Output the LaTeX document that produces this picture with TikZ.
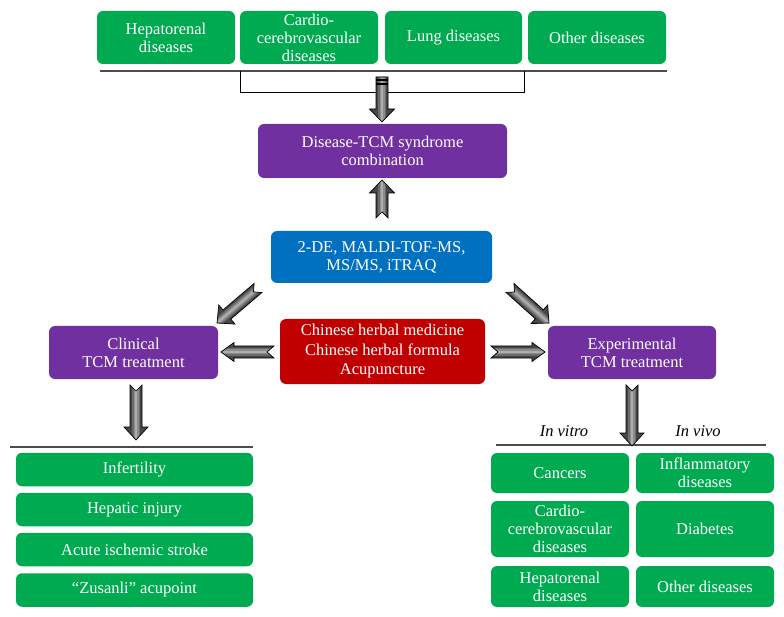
\documentclass[tikz,border=0pt]{standalone}
\usepackage{fontspec}
\setmainfont{Liberation Serif}
\usetikzlibrary{calc}
\definecolor{boxgreen}{RGB}{0,170,80}
\definecolor{boxpurple}{RGB}{112,48,160}
\definecolor{boxblue}{RGB}{0,112,192}
\definecolor{boxred}{RGB}{192,0,0}
\tikzset{
  box/.style={rounded corners=6pt, inner sep=0pt, align=center, text=white,
              font=\fontsize{16.5}{18}\selectfont},
  gbox/.style={box, fill=boxgreen},
  pbox/.style={box, fill=boxpurple},
  bbox/.style={box, fill=boxblue},
  rbox/.style={box, fill=boxred, font=\fontsize{16.5}{19.5}\selectfont},
  rule/.style={draw=black!70, line width=1.4pt},
  bracket/.style={draw=black, line width=0.8pt},
  lbl/.style={font=\fontsize{16.5}{18}\selectfont\itshape, inner sep=0pt},
}
% #1 notch depth, #2 head half width, #3 tail, #4 tip
\newcommand\blockarrow[4]{%
  \path let \p1=($(#4)-(#3)$), \n1={veclen(\x1,\y1)}, \n2={atan2(\y1,\x1)} in
    \pgfextra{\xdef\balen{\n1}\xdef\baang{\n2}};
  \begin{scope}[shift={(#3)}, rotate=\baang, x=1pt, y=1pt]
    \begin{scope}
      \clip (0,6) -- (\balen-13,6) -- (\balen-13,#2) -- (\balen,0) --
            (\balen-13,-#2) -- (\balen-13,-6) -- (0,-6) -- (#1,0) -- cycle;
      \fill[black!72] (-1,-14) rectangle (\balen+1,14);
      \draw[black!58, line width=8pt] (-1,0) -- (\balen,0);
      \draw[black!45, line width=5pt] (-1,0) -- (\balen,0);
      \draw[black!32, line width=2pt] (-1,0) -- (\balen,0);
    \end{scope}
    \draw[black, line width=0.7pt, line join=miter]
      (0,6) -- (\balen-13,6) -- (\balen-13,#2) -- (\balen,0) --
      (\balen-13,-#2) -- (\balen-13,-6) -- (0,-6) -- (#1,0) -- cycle;
  \end{scope}}
\begin{document}
\begin{tikzpicture}[x=1pt,y=-1pt]
\useasboundingbox (0,0) rectangle (784,617);

% top row
\node[gbox, minimum width=138pt, minimum height=53pt] (hep) at (166,37.5) {Hepatorenal\\diseases};
\node[gbox, minimum width=138pt, minimum height=53pt] (cardio) at (309,37.5) {Cardio-\\cerebrovascular\\diseases};
\node[gbox, minimum width=137pt, minimum height=53pt] (lung) at (453.5,37.5) {Lung diseases};
\node[gbox, minimum width=138pt, minimum height=53pt] (other) at (597,37.5) {Other diseases};
\draw[rule] (100,71) -- (667,71);
\coordinate (brL) at (240,71);
\coordinate (brR) at (524,71);
\draw[bracket] (brL) -- ++(0,21) -| (brR);

% middle
\node[pbox, minimum width=249pt, minimum height=54pt] (syn) at (382.5,151) {Disease-TCM syndrome\\combination};
\node[bbox, minimum width=221pt, minimum height=52pt] (tech) at (381.5,257) {2-DE, MALDI-TOF-MS,\\MS/MS, iTRAQ};
\node[pbox, minimum width=169pt, minimum height=53pt] (clin) at (133.5,352.5) {Clinical\\TCM treatment};
\node[rbox, minimum width=205pt, minimum height=65pt] (herb) at (382.5,351.5) {Chinese herbal medicine\\Chinese herbal formula\\Acupuncture};
\node[pbox, minimum width=168pt, minimum height=53pt] (exp) at (632,352.5) {Experimental\\TCM treatment};

% left list
\draw[rule] (10,447) -- (253,447);
\node[gbox, minimum width=237pt, minimum height=33.5pt] (inf) at (134.5,469.5) {Infertility};
\node[gbox, minimum width=237pt, minimum height=33.5pt] (hepi) at (134.5,509.5) {Hepatic injury};
\node[gbox, minimum width=237pt, minimum height=33.5pt] (ais) at (134.5,549.5) {Acute ischemic stroke};
\node[gbox, minimum width=237pt, minimum height=33.5pt] (zus) at (134.5,590) {“Zusanli” acupoint};

% right list
\node[lbl] (vitro) at (564,431) {In vitro};
\node[lbl] (vivo) at (698,431) {In vivo};
\draw[rule] (496,445) -- (766,445);
\node[gbox, minimum width=138pt, minimum height=40pt] (canc) at (560,473) {Cancers};
\node[gbox, minimum width=138pt, minimum height=56pt] (cardio2) at (560,529) {Cardio-\\cerebrovascular\\diseases};
\node[gbox, minimum width=138pt, minimum height=41pt] (hep2) at (560,586.5) {Hepatorenal\\diseases};
\node[gbox, minimum width=138pt, minimum height=40pt] (infl) at (705,473) {Inflammatory\\diseases};
\node[gbox, minimum width=138pt, minimum height=56pt] (diab) at (705,529) {Diabetes};
\node[gbox, minimum width=138pt, minimum height=41pt] (oth2) at (705,586.5) {Other diseases};

% arrow end points
\coordinate (a1s) at (382,77);   \coordinate (a1e) at (382,122);
\coordinate (a2s) at (382,218);  \coordinate (a2e) at (382,180);
\coordinate (a3s) at (258,288);  \coordinate (a3e) at (217,323);
\coordinate (a4s) at (510,288);  \coordinate (a4e) at (549,323);
\coordinate (a5s) at (274,352);  \coordinate (a5e) at (221,352);
\coordinate (a6s) at (491,352);  \coordinate (a6e) at (545,352);
\coordinate (a7s) at (136,385);  \coordinate (a7e) at (136,440);
\coordinate (a8s) at (632,385);  \coordinate (a8e) at (632,446);

\blockarrow{0}{12.5}{a1s}{a1e}
\draw[black, line width=1.2pt] (376,80) -- (388,80);
\draw[black, line width=1.2pt] (376,84) -- (388,84);
\blockarrow{6}{12.5}{a2s}{a2e}
\blockarrow{6}{12.5}{a3s}{a3e}
\blockarrow{6}{12.5}{a4s}{a4e}
\blockarrow{7}{9.5}{a5s}{a5e}
\blockarrow{7}{9.5}{a6s}{a6e}
\blockarrow{6}{12}{a7s}{a7e}
\blockarrow{6}{12}{a8s}{a8e}
\end{tikzpicture}
\end{document}
